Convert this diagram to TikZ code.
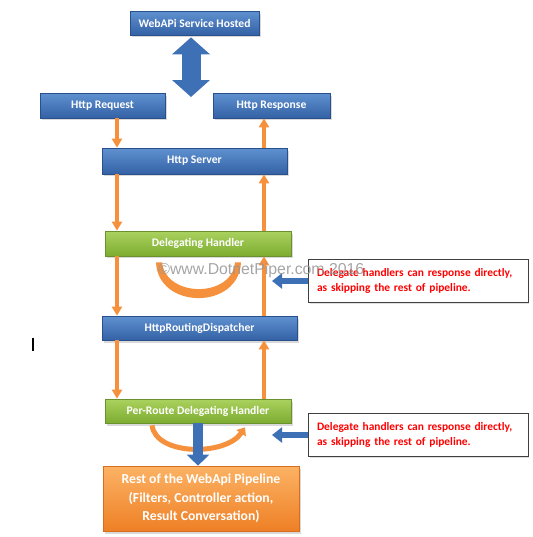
\documentclass[tikz,border=0pt]{standalone}
\usepackage{fontspec}
\setmainfont{Carlito}
\newfontfamily\wmfont{Liberation Sans}
\usetikzlibrary{arrows.meta}
\usetikzlibrary{shadows}
\definecolor{bt}{RGB}{95,145,208}
\definecolor{bb}{RGB}{52,98,165}
\definecolor{bd}{RGB}{40,80,140}
\definecolor{gt}{RGB}{170,210,95}
\definecolor{gb}{RGB}{125,172,48}
\definecolor{gd}{RGB}{105,145,45}
\definecolor{ot}{RGB}{252,178,100}
\definecolor{ob}{RGB}{238,128,38}
\definecolor{od}{RGB}{215,110,30}
\definecolor{oa}{RGB}{245,145,60}
\definecolor{ba}{RGB}{62,112,182}
\definecolor{wm}{RGB}{150,150,150}
\tikzstyle{box}=[inner sep=0pt, align=center, text=white,
  font=\fontsize{6.6}{8}\selectfont\bfseries,
  drop shadow={opacity=.3, shadow xshift=.04cm, shadow yshift=-.05cm}]
\tikzstyle{bluebox}=[box, draw=bd, top color=bt, bottom color=bb]
\tikzstyle{greenbox}=[box, draw=gd, top color=gt, bottom color=gb]
\tikzstyle{orangebox}=[box, draw=od, top color=ot, bottom color=ob,
  font=\fontsize{7.8}{10.5}\selectfont\bfseries]
\tikzstyle{note}=[draw=black!75, fill=white, line width=.5pt, inner sep=.18cm,
  align=left, text=red, font=\fontsize{6.5}{8.5}\selectfont\bfseries,
  minimum width=4.4cm, minimum height=.72cm, text width=4.04cm,
  drop shadow={opacity=.25, shadow xshift=.03cm, shadow yshift=-.03cm}]
\tikzstyle{oarrow}=[draw=oa, line width=.08cm, -{Triangle[length=.18cm, width=.2cm]}]
\tikzstyle{ucurve}=[draw=oa, line width=.1cm]
\tikzstyle{sidearrow}=[draw=ba, line width=.12cm, -{Triangle[length=.2cm, width=.3cm]}]

\begin{document}
\begin{tikzpicture}[x=0.02cm, y=-0.02cm]

      \useasboundingbox (0,0) rectangle (532,537);

      \coordinate (lx) at (117,0);
      \coordinate (rx) at (264,0);
      \coordinate (hx) at (191,97);

      \node[bluebox, minimum width=2.58cm, minimum height=.48cm] (host) at (194.5,23) {WebAPi Service Hosted};

      \node[bluebox, minimum width=2.5cm, minimum height=.5cm] (req) at (102.5,105.5) {Http Request};
      \node[bluebox, minimum width=2.34cm, minimum height=.5cm] (resp) at (271.5,105.5) {Http Response};

      \node[bluebox, minimum width=3.7cm, minimum height=.52cm] (srv) at (194.5,161) {Http Server};

      \node[greenbox, minimum width=3.72cm, minimum height=.5cm] (dh) at (198,243.5) {Delegating Handler};

      \node[bluebox, minimum width=3.9cm, minimum height=.48cm] (rd) at (199.5,328) {HttpRoutingDispatcher};

      \node[greenbox, minimum width=3.72cm, minimum height=.48cm] (prd) at (198,411) {Per-Route Delegating Handler};

      \node[orangebox, minimum width=3.92cm, minimum height=1.3cm] (rest) at (201,498.5)
        {Rest of the WebApi Pipeline\\(Filters, Controller action,\\Result Conversation)};

      \node[note] (c1) at (418,281) {Delegate handlers can response directly,\\as skipping the rest of pipeline.};
      \node[note] (c2) at (418,435) {Delegate handlers can response directly,\\as skipping the rest of pipeline.};

      % host <-> request/response
      \draw[draw=ba, line width=.38cm, shorten <=.04cm,
            {Triangle[length=.34cm, width=.74cm]}-{Triangle[length=.34cm, width=.74cm]}]
        (host.south -| hx) -- (hx);

      % down the left side
      \draw[oarrow] (req.south -| lx) -- (srv.north -| lx);
      \draw[oarrow] (srv.south -| lx) -- (dh.north -| lx);
      \draw[oarrow] (dh.south -| lx) -- (rd.north -| lx);
      \draw[oarrow] (rd.south -| lx) -- (prd.north -| lx);

      % up the right side
      \draw[oarrow] (srv.north -| rx) -- (resp.south -| rx);
      \draw[oarrow] (dh.north -| rx) -- (srv.south -| rx);
      \draw[oarrow] (rd.north -| rx) -- (dh.south -| rx);
      \draw[oarrow] (prd.north -| rx) -- (rd.south -| rx);

      % short cuts
      \fill[oa] ([xshift=-.84cm, yshift=-.12cm]dh.south) .. controls (158,310) and (239,310)
        .. ([xshift=.86cm, yshift=-.12cm]dh.south)
        -- ([xshift=.74cm, yshift=-.12cm]dh.south) .. controls (232,298) and (166,298)
        .. ([xshift=-.72cm, yshift=-.12cm]dh.south) -- cycle;
      \draw[ucurve, -{Triangle[length=.14cm, width=.22cm]}]
        ([xshift=-.92cm, yshift=-.04cm]prd.south) .. controls (156,456) and (226,456)
        .. ([xshift=.94cm, yshift=-.08cm]prd.south);

      \draw[draw=ba, line width=.2cm, -{Triangle[length=.22cm, width=.44cm]}]
        (prd.south) -- (rest.north -| prd.south);

      % notes
      \draw[sidearrow, shorten >=.16cm] (c1.west) -- (c1.west -| rx);
      \draw[sidearrow, shorten >=.16cm] (c2.west) -- (c2.west -| rx);

      \node[anchor=base west, inner sep=0pt, text=wm, opacity=.85,
            font=\wmfont\fontsize{9}{10}\selectfont] (wmark) at (158,274) {©www.DotnetPiper.com 2016};

      \draw[line width=1.3pt] (33,338) -- (33,351);

    \end{tikzpicture}
\end{document}
